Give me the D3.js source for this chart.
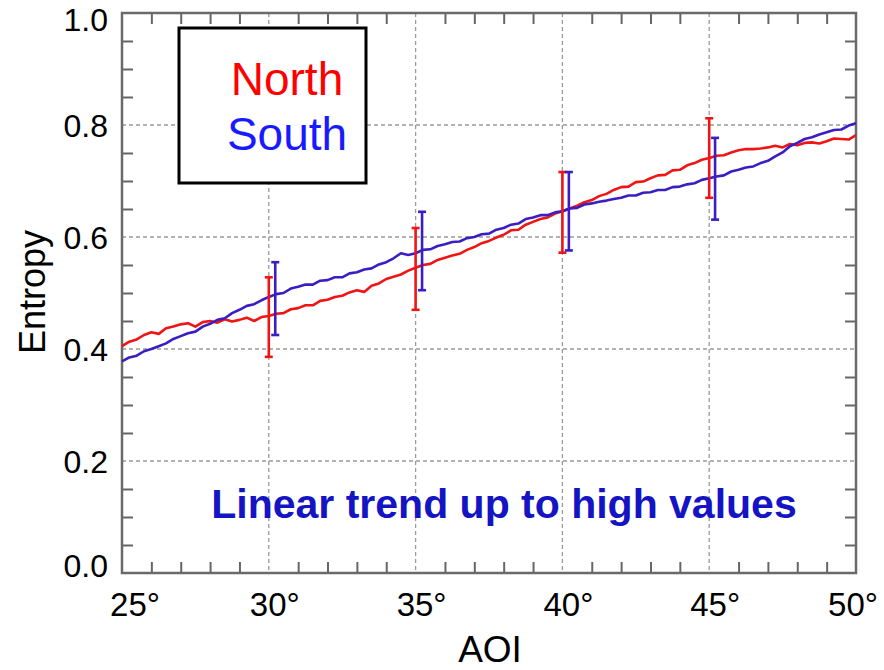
<!DOCTYPE html>
<html>
<head>
<meta charset="utf-8">
<script src="https://cdn.jsdelivr.net/npm/d3@7"></script>
<style>
  html, body { margin: 0; padding: 0; background: #fff; }
  svg { display: block; font-family: "Liberation Sans", Arial, sans-serif; }
</style>
</head>
<body>
<svg id="chart" width="884" height="670"></svg>
<script>
// AOI sampling grid (degrees) shared by both series
const aoi = d3.range(0, 101).map(i => 25 + i * 0.25);

// Mean entropy per AOI, northern region
const north = [
  0.405, 0.413, 0.417, 0.425, 0.430, 0.427, 0.437, 0.440, 0.444, 0.446,
  0.440, 0.448, 0.450, 0.447, 0.453, 0.449, 0.452, 0.456, 0.450, 0.457,
  0.459, 0.463, 0.464, 0.471, 0.473, 0.478, 0.478, 0.486, 0.488, 0.493,
  0.495, 0.501, 0.505, 0.502, 0.513, 0.517, 0.525, 0.529, 0.533, 0.540,
  0.545, 0.550, 0.552, 0.559, 0.563, 0.567, 0.570, 0.577, 0.582, 0.589,
  0.593, 0.599, 0.604, 0.612, 0.613, 0.622, 0.627, 0.632, 0.635, 0.642,
  0.646, 0.651, 0.656, 0.662, 0.666, 0.673, 0.677, 0.684, 0.689, 0.690,
  0.698, 0.699, 0.705, 0.710, 0.711, 0.719, 0.720, 0.728, 0.732, 0.738,
  0.741, 0.745, 0.746, 0.751, 0.755, 0.757, 0.757, 0.758, 0.760, 0.763,
  0.760, 0.766, 0.764, 0.768, 0.769, 0.767, 0.771, 0.776, 0.775, 0.774,
  0.782
];

// Mean entropy per AOI, southern region
const south = [
  0.378, 0.385, 0.388, 0.396, 0.400, 0.405, 0.410, 0.418, 0.423, 0.428,
  0.431, 0.440, 0.445, 0.452, 0.455, 0.464, 0.470, 0.477, 0.480, 0.487,
  0.493, 0.498, 0.500, 0.508, 0.511, 0.515, 0.515, 0.522, 0.523, 0.528,
  0.528, 0.535, 0.537, 0.542, 0.544, 0.551, 0.555, 0.562, 0.571, 0.568,
  0.571, 0.577, 0.578, 0.584, 0.587, 0.591, 0.592, 0.598, 0.600, 0.605,
  0.606, 0.613, 0.616, 0.622, 0.624, 0.632, 0.635, 0.639, 0.639, 0.644,
  0.646, 0.651, 0.652, 0.658, 0.660, 0.663, 0.665, 0.668, 0.670, 0.674,
  0.674, 0.679, 0.680, 0.684, 0.684, 0.689, 0.690, 0.694, 0.696, 0.702,
  0.705, 0.708, 0.710, 0.717, 0.720, 0.724, 0.726, 0.732, 0.736, 0.744,
  0.751, 0.762, 0.768, 0.775, 0.778, 0.783, 0.787, 0.791, 0.792, 0.799,
  0.803
];

// Spread bars: position, mean, half-width
const northErrAoi  = [30, 35, 40, 45];
const northErrMean = [0.457, 0.543, 0.644, 0.741];
const northErrHalf = [0.071, 0.073, 0.072, 0.071];

const southErrAoi  = [30.22, 35.22, 40.22, 45.2];
const southErrMean = [0.490, 0.575, 0.646, 0.704];
const southErrHalf = [0.065, 0.070, 0.070, 0.073];

// Axis ticks
const xLabelTicks = [25, 30, 35, 40, 45, 50];
const xLabelText  = ["25°", "30°", "35°", "40°", "45°", "50°"];
const yLabelTicks = [0, 0.2, 0.4, 0.6, 0.8, 1.0];
const yLabelText  = ["0.0", "0.2", "0.4", "0.6", "0.8", "1.0"];
const xGrid = [30, 35, 40, 45];
const yGrid = [0.2, 0.4, 0.6, 0.8];
const xMinor = d3.range(26, 50).filter(v => v % 5 !== 0);
const yMinor = d3.range(1, 20).filter(i => i % 4 !== 0).map(i => i * 0.05);

const seriesNames  = ["North", "South"];
const seriesColors = ["#f01414", "#3a1ec4"];
const legendColors = ["#ff0000", "#1a1aff"];

const svg = d3.select("#chart");
const L = 122, R = 856, T = 13, B = 573;

const x = d3.scaleLinear().domain([25, 50]).range([L, R]);
const y = d3.scaleLinear().domain([0, 1]).range([B, T]);

// Dashed grid
const grid = svg.append("g").attr("stroke", "#9a9a9a").attr("stroke-width", 1.3)
  .attr("stroke-dasharray", "4,3");
grid.selectAll("line.v").data(xGrid).join("line").attr("class", "v")
  .attr("x1", d => x(d)).attr("x2", d => x(d)).attr("y1", T).attr("y2", B);
grid.selectAll("line.h").data(yGrid).join("line").attr("class", "h")
  .attr("x1", L).attr("x2", R).attr("y1", d => y(d)).attr("y2", d => y(d));

// Inward minor ticks on all four sides
const tickLen = 11;
const tickStyle = g => g.call(s => s.select(".domain").remove())
  .call(s => s.selectAll(".tick line").attr("stroke", "#666").attr("stroke-width", 2));
svg.append("g").attr("transform", `translate(0,${B})`)
  .call(d3.axisBottom(x).tickValues(xMinor).tickSize(-tickLen).tickFormat("")).call(tickStyle);
svg.append("g").attr("transform", `translate(0,${T})`)
  .call(d3.axisTop(x).tickValues(xMinor).tickSize(-tickLen).tickFormat("")).call(tickStyle);
svg.append("g").attr("transform", `translate(${L},0)`)
  .call(d3.axisLeft(y).tickValues(yMinor).tickSize(-tickLen).tickFormat("")).call(tickStyle);
svg.append("g").attr("transform", `translate(${R},0)`)
  .call(d3.axisRight(y).tickValues(yMinor).tickSize(-tickLen).tickFormat("")).call(tickStyle);

// Frame
svg.append("rect").attr("x", L).attr("y", T).attr("width", R - L).attr("height", B - T)
  .attr("fill", "none").attr("stroke", "#6a6a6a").attr("stroke-width", 2.5);

// Series lines
const line = d3.line().x(d => x(d[0])).y(d => y(d[1]));
[north, south].forEach((vals, k) => {
  svg.append("path")
    .datum(aoi.map((a, i) => [a, vals[i]]))
    .attr("d", line)
    .attr("fill", "none")
    .attr("stroke", seriesColors[k])
    .attr("stroke-width", 2.6)
    .attr("stroke-linejoin", "round");
});

// Spread bars
function errorBars(pos, mean, half, color) {
  const g = svg.append("g").attr("stroke", color).attr("stroke-width", 2.6);
  const rows = pos.map((p, i) => ({ p, lo: mean[i] - half[i], hi: mean[i] + half[i] }));
  g.selectAll("line.stem").data(rows).join("line").attr("class", "stem")
    .attr("x1", d => x(d.p)).attr("x2", d => x(d.p))
    .attr("y1", d => y(d.lo)).attr("y2", d => y(d.hi));
  g.selectAll("line.capHi").data(rows).join("line").attr("class", "capHi")
    .attr("x1", d => x(d.p) - 4).attr("x2", d => x(d.p) + 4)
    .attr("y1", d => y(d.hi)).attr("y2", d => y(d.hi));
  g.selectAll("line.capLo").data(rows).join("line").attr("class", "capLo")
    .attr("x1", d => x(d.p) - 4).attr("x2", d => x(d.p) + 4)
    .attr("y1", d => y(d.lo)).attr("y2", d => y(d.lo));
}
errorBars(northErrAoi, northErrMean, northErrHalf, seriesColors[0]);
errorBars(southErrAoi, southErrMean, southErrHalf, seriesColors[1]);

// Tick labels
const xShift = { 25: 13, 50: -3 };
svg.append("g").selectAll("text").data(xLabelTicks).join("text")
  .attr("x", d => x(d) + (xShift[d] !== undefined ? xShift[d] : 6))
  .attr("y", 616)
  .attr("text-anchor", "middle")
  .attr("font-size", 33)
  .attr("fill", "#000")
  .text((d, i) => xLabelText[i]);

const yShift = { 0: -8, 1: 6 };
svg.append("g").selectAll("text").data(yLabelTicks).join("text")
  .attr("x", 108)
  .attr("y", d => y(d) + (yShift[d] !== undefined ? yShift[d] : 0))
  .attr("dy", "0.36em")
  .attr("text-anchor", "end")
  .attr("font-size", 32)
  .attr("fill", "#000")
  .text((d, i) => yLabelText[i]);

// Axis titles
svg.append("text").attr("x", 490).attr("y", 662).attr("text-anchor", "middle")
  .attr("font-size", 37).attr("fill", "#000").text("AOI");
svg.append("text").attr("transform", "translate(45,292) rotate(-90)")
  .attr("text-anchor", "middle").attr("font-size", 36).attr("fill", "#000").text("Entropy");

// Legend
svg.append("rect").attr("x", 179).attr("y", 28).attr("width", 187).attr("height", 155)
  .attr("fill", "#fff").attr("stroke", "#000").attr("stroke-width", 3);
svg.append("g").selectAll("text").data(seriesNames).join("text")
  .attr("x", 287)
  .attr("y", (d, i) => 95 + i * 55)
  .attr("text-anchor", "middle")
  .attr("font-size", 46)
  .attr("fill", (d, i) => legendColors[i])
  .text(d => d);

// Annotation
svg.append("text").attr("x", 504).attr("y", 518).attr("text-anchor", "middle")
  .attr("font-size", 41).attr("font-weight", "bold").attr("fill", "#1414c4")
  .text("Linear trend up to high values");
</script>
</body>
</html>
